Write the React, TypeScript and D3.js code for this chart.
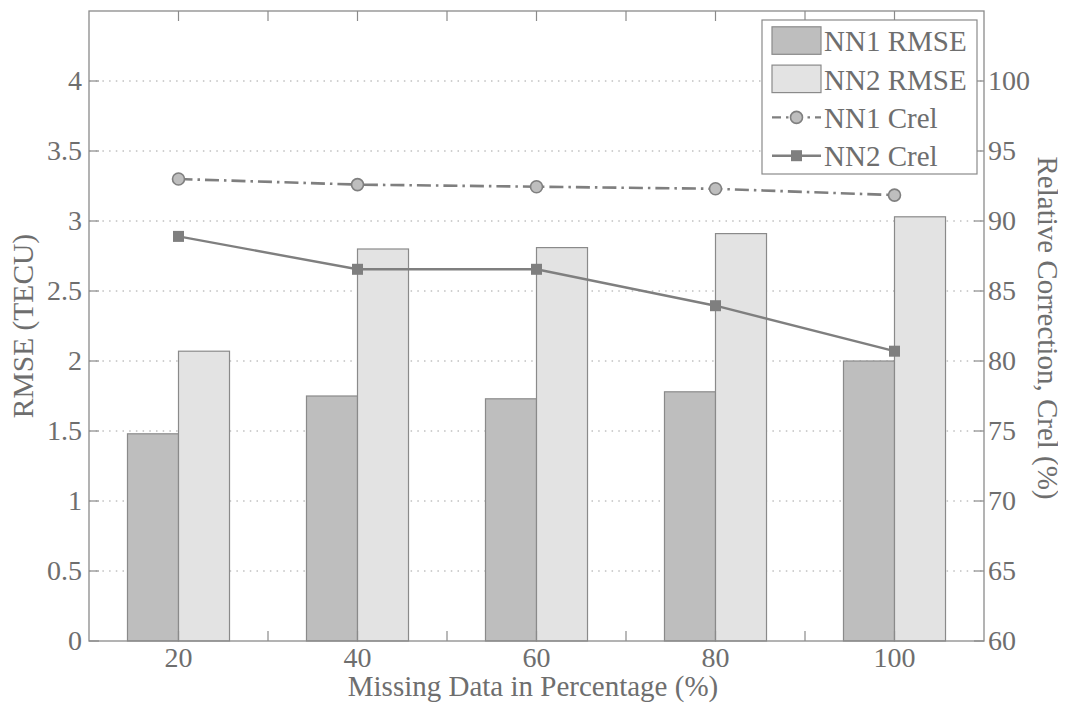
import * as d3 from "d3";

const categories = [20, 40, 60, 80, 100];
const nn1Rmse = [1.48, 1.75, 1.73, 1.78, 2.0];
const nn2Rmse = [2.07, 2.8, 2.81, 2.91, 3.03];
const nn1Crel = [93.0, 92.6, 92.45, 92.3, 91.85];
const nn2Crel = [88.9, 86.55, 86.55, 83.95, 80.7];
const leftTicks = [0, 0.5, 1, 1.5, 2, 2.5, 3, 3.5, 4];
const rightTicks = [60, 65, 70, 75, 80, 85, 90, 95, 100];
const xTicks = [20, 30, 40, 50, 60, 70, 80, 90, 100];
const xLabels = [20, 40, 60, 80, 100];
const legendNames = ["NN1 RMSE", "NN2 RMSE", "NN1 Crel", "NN2 Crel"];

// page has an 8px body margin; the svg sits at (8,8) and content is shifted back
const OFF = 8;
const W = 1066 - OFF;
const H = 709 - OFF;
const PLOT = { left: 89, right: 984, top: 11, bottom: 641 };
const BAR_W = 5.7; // in x units
const TEXT = "#6e6e6e";
const AXIS = "#8a8a8a";
const DARK = "#bebebe";
const LIGHT = "#e3e3e3";
const LINE = "#7f7f7f";

const serif = { fontFamily: "'Liberation Serif'" };

const x = d3.scaleLinear().domain([10, 110]).range([PLOT.left, PLOT.right]);
const y = d3.scaleLinear().domain([0, 4.5]).range([PLOT.bottom, PLOT.top]);
const y2 = d3.scaleLinear().domain([60, 105]).range([PLOT.bottom, PLOT.top]);

export default function App() {
  const line1 = d3
    .line<number>()
    .x((_, i) => x(categories[i]))
    .y((d) => y2(d))(nn1Crel) ?? "";
  const line2 = d3
    .line<number>()
    .x((_, i) => x(categories[i]))
    .y((d) => y2(d))(nn2Crel) ?? "";

  const legend = { x: 762, y: 20, w: 215, h: 154, row: 38.3 };
  const rowMid = (i: number) => legend.y + 20.8 + legend.row * i;

  return (
    <svg width={W} height={H}>
      <g transform={`translate(${-OFF},${-OFF})`}>
        {/* grid */}
        {leftTicks.slice(1).map((t) => (
          <line
            key={t}
            x1={PLOT.left}
            x2={PLOT.right}
            y1={y(t)}
            y2={y(t)}
            stroke="#a0a0a0"
            strokeWidth={1}
            strokeDasharray="1.5 5.2"
          />
        ))}

        {/* bars */}
        {categories.map((c, i) => (
          <g key={c}>
            <rect
              x={x(c - BAR_W)}
              y={y(nn1Rmse[i])}
              width={x(c) - x(c - BAR_W)}
              height={y(0) - y(nn1Rmse[i])}
              fill={DARK}
              stroke={AXIS}
              strokeWidth={1.2}
            />
            <rect
              x={x(c)}
              y={y(nn2Rmse[i])}
              width={x(c + BAR_W) - x(c)}
              height={y(0) - y(nn2Rmse[i])}
              fill={LIGHT}
              stroke={AXIS}
              strokeWidth={1.2}
            />
          </g>
        ))}

        {/* Crel lines */}
        <path d={line1} fill="none" stroke={LINE} strokeWidth={2.6} strokeDasharray="14 5 2.5 5" />
        <path d={line2} fill="none" stroke={LINE} strokeWidth={2.4} />
        {nn1Crel.map((v, i) => (
          <circle key={i} cx={x(categories[i])} cy={y2(v)} r={6} fill={DARK} stroke={LINE} strokeWidth={1.6} />
        ))}
        {nn2Crel.map((v, i) => (
          <rect key={i} x={x(categories[i]) - 5.5} y={y2(v) - 5.5} width={11} height={11} fill={LINE} />
        ))}

        {/* axes frame */}
        <rect
          x={PLOT.left}
          y={PLOT.top}
          width={PLOT.right - PLOT.left}
          height={PLOT.bottom - PLOT.top}
          fill="none"
          stroke={AXIS}
          strokeWidth={1.3}
        />
        {xTicks.map((t) => (
          <g key={t}>
            <line x1={x(t)} x2={x(t)} y1={PLOT.bottom} y2={PLOT.bottom - 10} stroke={AXIS} strokeWidth={1.2} />
            <line x1={x(t)} x2={x(t)} y1={PLOT.top} y2={PLOT.top + 10} stroke={AXIS} strokeWidth={1.2} />
          </g>
        ))}
        {leftTicks.map((t) => (
          <line key={t} x1={PLOT.left} x2={PLOT.left + 10} y1={y(t)} y2={y(t)} stroke={AXIS} strokeWidth={1.2} />
        ))}
        {rightTicks.map((t) => (
          <line key={t} x1={PLOT.right} x2={PLOT.right - 10} y1={y2(t)} y2={y2(t)} stroke={AXIS} strokeWidth={1.2} />
        ))}

        {/* tick labels */}
        {xLabels.map((t) => (
          <text key={t} x={x(t)} y={667} textAnchor="middle" fontSize={28} fill={TEXT} style={serif}>
            {t}
          </text>
        ))}
        {leftTicks.map((t) => (
          <text key={t} x={PLOT.left - 7} y={y(t) + 9} textAnchor="end" fontSize={28} fill={TEXT} style={serif}>
            {t}
          </text>
        ))}
        {rightTicks.map((t) => (
          <text key={t} x={PLOT.right + 4} y={y2(t) + 9} fontSize={28} fill={TEXT} style={serif}>
            {t}
          </text>
        ))}

        {/* axis titles */}
        <text x={533} y={696} textAnchor="middle" fontSize={29} fill={TEXT} style={serif}>
          Missing Data in Percentage (%)
        </text>
        <text
          transform={`translate(33,${(PLOT.top + PLOT.bottom) / 2}) rotate(-90)`}
          textAnchor="middle"
          fontSize={29.5}
          fill={TEXT}
          style={serif}
        >
          RMSE (TECU)
        </text>
        <text
          transform={`translate(1038,${(PLOT.top + PLOT.bottom) / 2 + 2}) rotate(90)`}
          textAnchor="middle"
          fontSize={29}
          fill={TEXT}
          style={serif}
        >
          Relative Correction, Crel (%)
        </text>

        {/* legend */}
        <rect x={legend.x} y={legend.y} width={legend.w} height={legend.h} fill="#fff" stroke={AXIS} strokeWidth={1.2} />
        <rect x={772} y={rowMid(0) - 14} width={49} height={27.5} fill={DARK} stroke={AXIS} strokeWidth={1.2} />
        <rect x={772} y={rowMid(1) - 14} width={49} height={27.5} fill={LIGHT} stroke={AXIS} strokeWidth={1.2} />
        <line x1={772} x2={821} y1={rowMid(2)} y2={rowMid(2)} stroke={LINE} strokeWidth={2.4} strokeDasharray="9 5 2.5 5" />
        <circle cx={796.5} cy={rowMid(2)} r={6} fill={DARK} stroke={LINE} strokeWidth={1.6} />
        <line x1={772} x2={821} y1={rowMid(3)} y2={rowMid(3)} stroke={LINE} strokeWidth={2.4} />
        <rect x={791} y={rowMid(3) - 5.5} width={11} height={11} fill={LINE} />
        {legendNames.map((name, i) => (
          <text key={name} x={824} y={rowMid(i) + 10.5} fontSize={29} fill={TEXT} style={serif}>
            {name}
          </text>
        ))}
      </g>
    </svg>
  );
}
